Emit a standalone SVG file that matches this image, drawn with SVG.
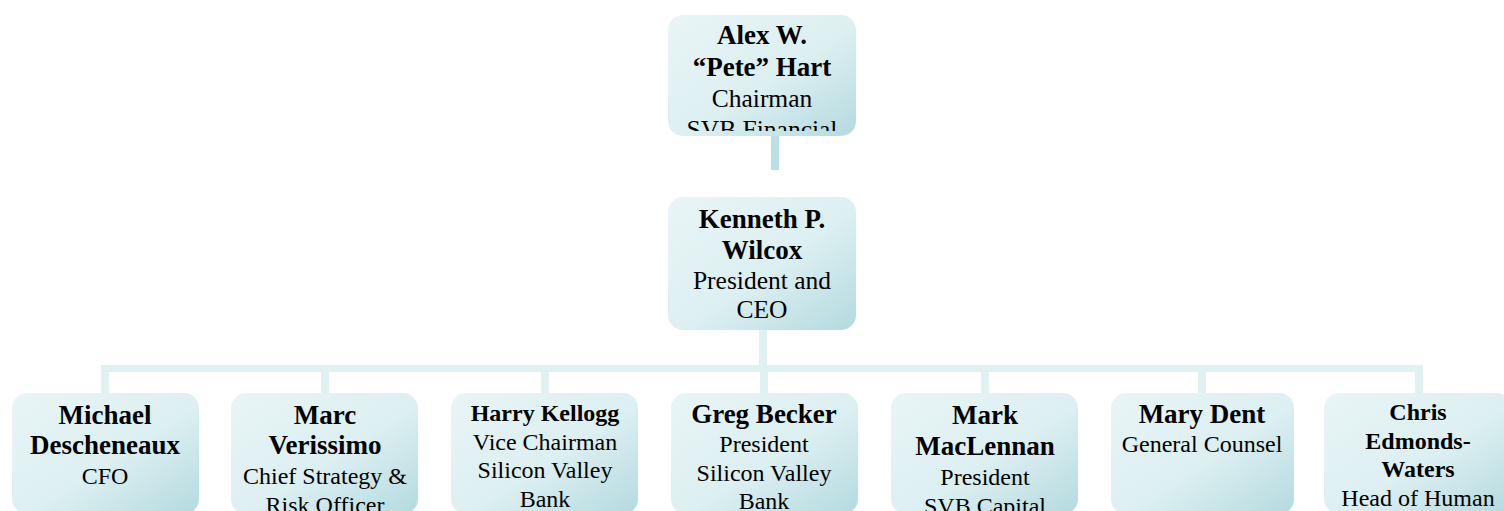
<svg xmlns="http://www.w3.org/2000/svg" width="1504" height="511" viewBox="0 0 1504 511">
<style>
.box{fill:url(#g)}
.t{font-family:"Liberation Serif","Times New Roman",serif;text-anchor:middle;fill:#000}
.b{font-weight:bold;font-size:27px}
.bs{font-weight:bold;font-size:24px}
.r{font-size:24px}
.rl{font-size:25.5px}
.c1{fill:#bcdfe3}
.c2{fill:#e0f1f2}
</style>
<defs>
<linearGradient id="g" x1="0" y1="0" x2="1" y2="1">
<stop offset="0" stop-color="#e9f5f6"/>
<stop offset="0.55" stop-color="#dceff1"/>
<stop offset="1" stop-color="#b3dadf"/>
</linearGradient>
<clipPath id="cTop"><rect x="668" y="15" width="188" height="116"/></clipPath>
</defs>
<g id="connectors">
<rect class="c1" x="771" y="136" width="8" height="34"/>
<rect class="c2" x="759" y="330" width="8" height="36"/>
<rect class="c2" x="101" y="365" width="1322" height="7"/>
<rect class="c2" x="101" y="372" width="8" height="21"/>
<rect class="c2" x="321" y="372" width="8" height="21"/>
<rect class="c2" x="541" y="372" width="8" height="21"/>
<rect class="c2" x="760" y="372" width="8" height="21"/>
<rect class="c2" x="981" y="372" width="8" height="21"/>
<rect class="c2" x="1198" y="372" width="8" height="21"/>
<rect class="c2" x="1415" y="372" width="8" height="21"/>
</g>
<g id="hart">
<rect class="box" x="668" y="15" width="188" height="121" rx="15"/>
<g clip-path="url(#cTop)">
<text class="t b" x="762" y="44">Alex W.</text>
<text class="t b" x="762" y="76">“Pete” Hart</text>
<text class="t rl" x="762" y="107">Chairman</text>
<text class="t rl" x="762" y="138">SVB Financial</text>
</g>
</g>
<g id="wilcox">
<rect class="box" x="668" y="197" width="188" height="133" rx="15"/>
<text class="t b" x="762" y="228">Kenneth P.</text>
<text class="t b" x="762" y="259">Wilcox</text>
<text class="t rl" x="762" y="289">President and</text>
<text class="t rl" x="762" y="318">CEO</text>
</g>
<g id="descheneaux">
<rect class="box" x="12" y="393" width="187" height="121" rx="15"/>
<text class="t b" x="105" y="424">Michael</text>
<text class="t b" x="105" y="454">Descheneaux</text>
<text class="t r" x="105" y="484">CFO</text>
</g>
<g id="verissimo">
<rect class="box" x="231" y="393" width="187" height="121" rx="15"/>
<text class="t b" x="325" y="424">Marc</text>
<text class="t b" x="325" y="454">Verissimo</text>
<text class="t r" x="325" y="484">Chief Strategy &amp;</text>
<text class="t r" x="325" y="513">Risk Officer</text>
</g>
<g id="kellogg">
<rect class="box" x="451" y="393" width="187" height="121" rx="15"/>
<text class="t bs" x="545" y="421">Harry Kellogg</text>
<text class="t r" x="545" y="450">Vice Chairman</text>
<text class="t r" x="545" y="478">Silicon Valley</text>
<text class="t r" x="545" y="507">Bank</text>
</g>
<g id="becker">
<rect class="box" x="671" y="393" width="187" height="121" rx="15"/>
<text class="t b" x="764" y="423">Greg Becker</text>
<text class="t r" x="764" y="452">President</text>
<text class="t r" x="764" y="481">Silicon Valley</text>
<text class="t r" x="764" y="509">Bank</text>
</g>
<g id="maclennan">
<rect class="box" x="891" y="393" width="187" height="121" rx="15"/>
<text class="t b" x="985" y="424">Mark</text>
<text class="t b" x="985" y="455">MacLennan</text>
<text class="t r" x="985" y="485">President</text>
<text class="t r" x="985" y="514">SVB Capital</text>
</g>
<g id="dent">
<rect class="box" x="1111" y="393" width="183" height="121" rx="15"/>
<text class="t b" x="1202" y="423">Mary Dent</text>
<text class="t r" x="1202" y="452">General Counsel</text>
</g>
<g id="edmonds-waters">
<rect class="box" x="1324" y="393" width="188" height="121" rx="15"/>
<text class="t bs" x="1418" y="420">Chris</text>
<text class="t bs" x="1418" y="449">Edmonds-</text>
<text class="t bs" x="1418" y="477">Waters</text>
<text class="t r" x="1418" y="506">Head of Human</text>
</g>
</svg>
